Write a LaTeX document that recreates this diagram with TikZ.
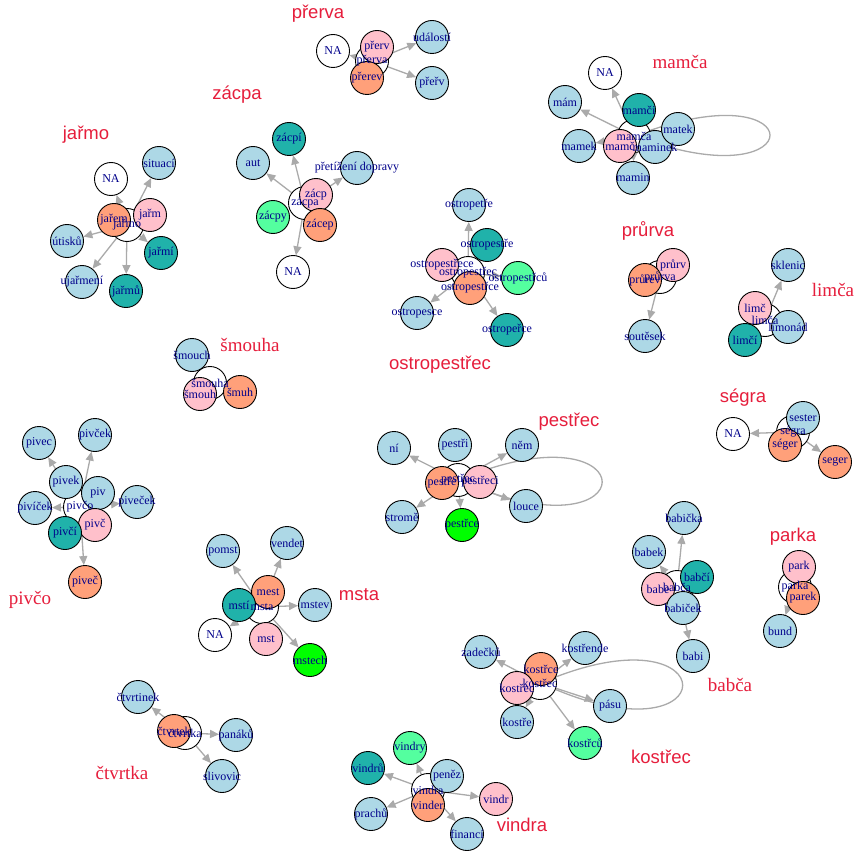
\documentclass[tikz,border=0pt]{standalone}
\usepackage{fontspec}
\setmainfont{Liberation Serif}
\setsansfont{Liberation Sans}
\usetikzlibrary{arrows.meta}
\pgfdeclarelayer{bg}\pgfdeclarelayer{fg}\pgfsetlayers{bg,main,fg}
\definecolor{lb}{RGB}{173,216,230}
\definecolor{pk}{RGB}{255,192,203}
\definecolor{sa}{RGB}{255,160,122}
\definecolor{ts}{RGB}{32,178,170}
\definecolor{sg}{RGB}{84,255,159}
\definecolor{gr}{RGB}{0,255,0}
\definecolor{tred}{RGB}{230,30,60}
\definecolor{labblue}{RGB}{0,0,139}
\definecolor{egray}{RGB}{170,170,170}
\tikzset{
 vtx/.style={circle, draw=black, line width=0.9pt, minimum size=33pt, inner sep=0pt},
 lbl/.style={text=labblue, font=\fontsize{12}{12}\selectfont, inner sep=0pt},
 edge/.style={draw=egray, line width=1.3pt, -{Triangle[length=9pt,width=8pt]}},
 loopline/.style={draw=egray, line width=1.3pt},
 ttl/.style={text=tred, font=\sffamily\fontsize{18.5}{18.5}\selectfont, inner sep=0pt},
 ttls/.style={text=tred, font=\fontsize{19}{19}\selectfont, inner sep=0pt},
}
\newcommand\vx[5]{\node[vtx,fill=#4] (#1) at (#2,#3) {};\begin{pgfonlayer}{fg}\node[lbl] (#1l) at (#1.center) {#5};\end{pgfonlayer}}
\newcommand\ed[2]{\begin{pgfonlayer}{bg}\draw[edge] (#1) -- (#2);\end{pgfonlayer}}
\begin{document}
\begin{tikzpicture}[x=1pt,y=-1pt]
\begin{pgfonlayer}{bg}\fill[white] (0,0) rectangle (859,853);\end{pgfonlayer}
\useasboundingbox (0,0) rectangle (859,853);

% prerva
\node[ttl] (tprerva) at (318,14) {přerva};
\vx{prC}{372}{61}{white}{přerva}
\vx{prNA}{333}{51}{white}{NA}
\vx{prV}{377}{47}{pk}{přerv}
\vx{prEv}{367}{78}{sa}{přerev}
\vx{prUd}{432}{37}{lb}{událostí}
\vx{prRv}{432}{83}{lb}{přeřv}
\ed{prC}{prNA}\ed{prC}{prUd}\ed{prC}{prRv}

% mamca
\node[ttls] (tmamca) at (680,62) {mamča};
\vx{maC}{634}{136}{white}{mamča}
\vx{maNA}{605}{73}{white}{NA}
\vx{maMam}{565}{102}{lb}{mám}
\vx{maMi}{639}{110}{ts}{mamči}
\vx{maMamek}{579}{146}{lb}{mamek}
\vx{maMc}{620}{146}{pk}{mamč}
\vx{maMin}{633}{178}{lb}{mamin}
\vx{maMinek}{655}{147}{lb}{maminek}
\vx{maMatek}{678}{129}{lb}{matek}
\ed{maC}{maNA}\ed{maC}{maMam}\ed{maC}{maMamek}\ed{maC}{maMin}\ed{maC}{maMatek}
\begin{pgfonlayer}{bg}\draw[loopline] (maC) .. controls (810,75) and (810,195) .. (maC);\end{pgfonlayer}

% zacpa
\node[ttl] (tzacpa) at (237,95) {zácpa};
\vx{zaC}{305}{203}{white}{zácpa}
\vx{zaPi}{289}{139}{ts}{zácpí}
\vx{zaAut}{253}{163}{lb}{aut}
\vx{zaPD}{357}{168}{lb}{přetížení dopravy}
\vx{zaP}{316}{195}{pk}{zácp}
\vx{zaPy}{273}{217}{sg}{zácpy}
\vx{zaEp}{320}{225}{sa}{zácep}
\vx{zaNA}{293}{272}{white}{NA}
\ed{zaC}{zaPi}\ed{zaC}{zaAut}\ed{zaC}{zaPD}\ed{zaC}{zaNA}

% jarmo
\node[ttl] (tjarmo) at (86,135) {jařmo};
\vx{jaC}{127}{225}{white}{jařmo}
\vx{jaSit}{159}{163}{lb}{situací}
\vx{jaNA}{111}{179}{white}{NA}
\vx{jaEm}{114}{220}{sa}{jařem}
\vx{jaM}{150}{215}{pk}{jařm}
\vx{jaUt}{67}{241}{lb}{útisků}
\vx{jaMi}{161}{253}{ts}{jařmí}
\vx{jaUj}{82}{282}{lb}{ujařmení}
\vx{jaMu}{126}{291}{ts}{jařmů}
\ed{jaC}{jaSit}\ed{jaC}{jaNA}\ed{jaC}{jaUt}\ed{jaC}{jaMi}\ed{jaC}{jaUj}\ed{jaC}{jaMu}

% ostropestrec
\node[ttl] (tostro) at (440,365) {ostropestřec};
\vx{osC}{468}{273}{white}{ostropestřec}
\vx{osPetre}{469}{205}{lb}{ostropetře}
\vx{osEstre}{487}{245}{ts}{ostropestře}
\vx{osEce}{442}{265}{pk}{ostropestřece}
\vx{osCu}{518}{278}{sg}{ostropestřců}
\vx{osCe}{470}{288}{sa}{ostropestřce}
\vx{osEsce}{417}{313}{lb}{ostropesce}
\vx{osErce}{507}{330}{ts}{ostropeřce}
\ed{osC}{osPetre}\ed{osC}{osEsce}\ed{osC}{osErce}\ed{osC}{osCu}

% prurva
\node[ttl] (tprurva) at (648,231) {průrva};
\vx{puC}{660}{277}{white}{průrva}
\vx{puV}{673}{265}{pk}{průrv}
\vx{puEv}{645}{280}{sa}{průrev}
\vx{puSo}{645}{336}{lb}{soutěsek}
\ed{puC}{puSo}

% limca
\node[ttls] (tlimca) at (833,290) {limča};
\vx{liC}{765}{320}{white}{limča}
\vx{liSk}{788}{265}{lb}{sklenic}
\vx{liM}{755}{308}{pk}{limč}
\vx{liOn}{788}{327}{lb}{limonád}
\vx{liMi}{745}{340}{ts}{limčí}
\ed{liC}{liSk}

% smouha
\node[ttls] (tsmouha) at (250,345) {šmouha};
\vx{smC}{210}{383}{white}{šmouha}
\vx{smCh}{192}{355}{lb}{šmouch}
\vx{smH}{200}{394}{pk}{šmouh}
\vx{smUh}{240}{392}{sa}{šmuh}

% pivco
\node[ttls] (tpivco) at (30,600) {pivčo};
\vx{piC}{80}{507}{white}{pivčo}
\vx{piVec}{39}{443}{lb}{pivec}
\vx{piVcek}{95}{435}{lb}{pivček}
\vx{piVek}{66}{482}{lb}{pivek}
\vx{piV}{98}{493}{lb}{piv}
\vx{piIcek}{35}{508}{lb}{pivíček}
\vx{piEcek}{137}{502}{lb}{piveček}
\vx{piVc}{95}{525}{pk}{pivč}
\vx{piVci}{65}{533}{ts}{pivčí}
\vx{piVec2}{85}{582}{sa}{piveč}
\ed{piC}{piVec}\ed{piC}{piVcek}\ed{piC}{piIcek}\ed{piC}{piEcek}\ed{piC}{piVec2}

% pestrec
\node[ttl] (tpestrec) at (569,422) {pestřec};
\vx{peC}{458}{480}{white}{pestřec}
\vx{peNi}{394}{448}{lb}{ní}
\vx{peI}{455}{445}{lb}{pestři}
\vx{peNem}{522}{445}{lb}{něm}
\vx{peE}{442}{483}{sa}{pestře}
\vx{peEci}{480}{482}{pk}{pestřeci}
\vx{peStr}{402}{517}{lb}{stromě}
\vx{peLo}{526}{506}{lb}{louce}
\vx{peCe}{462}{525}{gr}{pestřce}
\ed{peC}{peNi}\ed{peC}{peNem}\ed{peC}{peStr}\ed{peC}{peLo}\ed{peC}{peCe}
\begin{pgfonlayer}{bg}\draw[loopline] (peC) .. controls (645,410) and (645,555) .. (peC);\end{pgfonlayer}

% segra
\node[ttl] (tsegra) at (743,398) {ségra};
\vx{seC}{793}{432}{white}{ségra}
\vx{seNA}{733}{434}{white}{NA}
\vx{seSes}{803}{418}{lb}{sester}
\vx{seEg}{785}{445}{sa}{séger}
\vx{seG}{835}{462}{sa}{seger}
\ed{seC}{seNA}\ed{seC}{seG}

% msta
\node[ttl] (tmsta) at (359,595) {msta};
\vx{msC}{262}{607}{white}{msta}
\vx{msPo}{223}{551}{lb}{pomst}
\vx{msVe}{287}{543}{lb}{vendet}
\vx{msMe}{268}{592}{sa}{mest}
\vx{msI}{239}{605}{ts}{mstí}
\vx{msEv}{315}{605}{lb}{mstev}
\vx{msNA}{215}{635}{white}{NA}
\vx{msT}{266}{639}{pk}{mst}
\vx{msEch}{310}{660}{gr}{mstech}
\ed{msC}{msPo}\ed{msC}{msVe}\ed{msC}{msEv}\ed{msC}{msNA}\ed{msC}{msEch}

% babca
\node[ttls] (tbabca) at (730,685) {babča};
\vx{baC}{677}{587}{white}{babča}
\vx{baKa}{684}{518}{lb}{babička}
\vx{baEk}{649}{552}{lb}{babek}
\vx{baCi}{697}{577}{ts}{babčí}
\vx{baE}{658}{589}{pk}{babe}
\vx{baCek}{683}{608}{lb}{babiček}
\vx{baI}{693}{656}{lb}{babi}
\ed{baC}{baKa}\ed{baC}{baEk}\ed{baC}{baI}

% parka
\node[ttl] (tparka) at (793,537) {parka};
\vx{paC}{795}{587}{white}{parka}
\vx{paP}{799}{567}{pk}{park}
\vx{paEk}{803}{598}{sa}{parek}
\vx{paB}{780}{631}{lb}{bund}
\ed{paC}{paB}

% kostrec
\node[ttl] (tkostrec) at (661,757) {kostřec};
\vx{koC}{540}{683}{white}{kostřec}
\vx{koZa}{481}{652}{lb}{zadečků}
\vx{koCe}{541}{669}{sa}{kostřce}
\vx{koEn}{585}{648}{lb}{kostřende}
\vx{koEc}{517}{688}{pk}{kostřec}
\vx{koPa}{610}{706}{lb}{pásu}
\vx{koE}{517}{722}{lb}{kostře}
\vx{koCu}{585}{743}{sg}{kostřců}
\ed{koC}{koZa}\ed{koC}{koEn}\ed{koC}{koPa}\ed{koC}{koE}\ed{koC}{koCu}
\begin{pgfonlayer}{bg}\draw[loopline] (koC) .. controls (725,612) and (725,760) .. (koC);\end{pgfonlayer}

% vindra
\node[ttl] (tvindra) at (522,825) {vindra};
\vx{viC}{428}{790}{white}{vindra}
\vx{viY}{410}{748}{sg}{vindry}
\vx{viU}{368}{768}{ts}{vindrů}
\vx{viPe}{447}{776}{lb}{peněz}
\vx{viEr}{428}{805}{sa}{vinder}
\vx{viR}{496}{799}{pk}{vindr}
\vx{viPr}{371}{814}{lb}{prachů}
\vx{viFi}{467}{834}{lb}{financí}
\ed{viC}{viY}\ed{viC}{viU}\ed{viC}{viR}\ed{viC}{viPr}\ed{viC}{viFi}

% ctvrtka
\node[ttls] (tctvrtka) at (122,773) {čtvrtka};
\vx{ctC}{185}{733}{white}{čtvrtka}
\vx{ctIn}{138}{697}{lb}{čtvrtinek}
\vx{ctEk}{174}{731}{sa}{čtvrtek}
\vx{ctPa}{236}{735}{lb}{panáků}
\vx{ctSl}{222}{776}{lb}{slivovic}
\ed{ctC}{ctIn}\ed{ctC}{ctPa}\ed{ctC}{ctSl}
\end{tikzpicture}
\end{document}
